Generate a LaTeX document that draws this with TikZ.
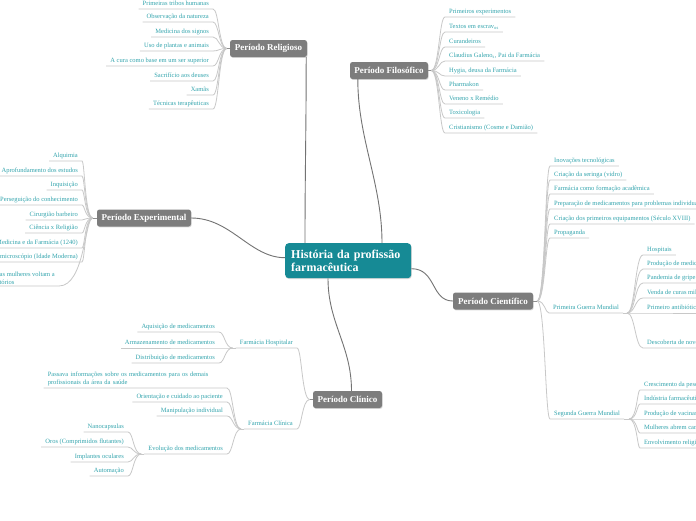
\documentclass[tikz,border=0pt]{standalone}
\usepackage{fontspec}
\setmainfont{Liberation Serif}
\usetikzlibrary{calc,shadows}
\definecolor{tealtxt}{RGB}{52,165,174}
\definecolor{boxgray}{RGB}{125,125,125}
\definecolor{rootteal}{RGB}{22,138,149}
\definecolor{linegray}{RGB}{200,200,200}
\definecolor{trunkgray}{RGB}{115,115,115}
\newcommand\myL[2]{\draw[leafline] let \p1=(#1), \p2=(#2.south east) in (\p1) .. controls (\x1-8pt,\y1) and (\x1-8pt,\y2) .. (\p2) -- (#2.south west);}
\newcommand\myR[2]{\draw[leafline] let \p1=(#1), \p2=(#2.south west) in (\p1) .. controls (\x1+8pt,\y1) and (\x1+8pt,\y2) .. (\p2) -- (#2.south east);}
\tikzset{
  leaf/.style={font=\fontsize{6.5}{7.8}\selectfont, text=tealtxt, inner xsep=4pt, inner ysep=1pt, text height=4.6pt, text depth=2.4pt},
  leafml/.style={font=\fontsize{6.5}{8.2}\selectfont, text=tealtxt, inner xsep=4pt, inner ysep=1.5pt, align=left},
  period/.style={fill=boxgray, text=white, font=\bfseries\fontsize{9}{10}\selectfont, rounded corners=2.5pt, minimum height=17pt, inner xsep=4pt, drop shadow={shadow xshift=0.6pt, shadow yshift=-0.9pt, opacity=0.3}},
  rootbox/.style={fill=rootteal, text=white, font=\bfseries\fontsize{12}{12.5}\selectfont, rounded corners=3.5pt, inner xsep=6pt, drop shadow={shadow xshift=0.6pt, shadow yshift=-0.9pt, opacity=0.3}},
  leafline/.style={draw=linegray, line width=0.8pt},
  trunk/.style={draw=trunkgray, line width=0.9pt},
  stub/.style={draw=trunkgray!80, line width=0.9pt},
}
\begin{document}
\begin{tikzpicture}[x=1pt,y=-1pt]
\useasboundingbox (0,0) rectangle (696,520);
\clip (0,0) rectangle (696,520);
\fill[white] (0,0) rectangle (696,520);

% root
\node[rootbox, anchor=north west, minimum width=126pt, minimum height=35pt, text width=114pt, align=left] (root) at (285,243) {História da profissão\\farmacêutica};

% ---- Periodo Religioso
\node[period, minimum width=77pt] (rel) at (268.5,48.5) {Período Religioso};
\coordinate (relH) at ($(rel.west)+(-3,0)$);
\node[leaf, anchor=south east] (r1) at (213,9) {Primeiras tribos humanas};
\node[leaf, anchor=south east] (r2) at (213,22) {Observação da natureza};
\node[leaf, anchor=south east] (r3) at (213,37) {Medicina dos signos};
\node[leaf, anchor=south east] (r4) at (213,51) {Uso de plantas e animais};
\node[leaf, anchor=south east] (r5) at (213,66) {A cura como base em um ser superior};
\node[leaf, anchor=south east] (r6) at (213,81) {Sacrifício aos deuses};
\node[leaf, anchor=south east] (r7) at (213,95) {Xamãs};
\node[leaf, anchor=south east] (r8) at (213,109) {Técnicas terapêuticas};
\foreach \q in {r1,r2,r3,r4,r5,r6,r7,r8} {\myL{relH}{\q}}
\draw[stub] (rel.west) -- (relH);

% ---- Periodo Filosofico
\node[period, minimum width=78pt] (fil) at (389,70.5) {Período Filosófico};
\coordinate (filH) at ($(fil.east)+(3,0)$);
\node[leaf, anchor=south west] (f1) at (445,17) {Primeiros experimentos};
\node[leaf, anchor=south west] (f2) at (445,32) {Textos em escrav\textsubscript{os}};
\node[leaf, anchor=south west] (f3) at (445,47) {Curandeiros};
\node[leaf, anchor=south west] (f4) at (445,61) {Claudius Galeno\textsubscript{s}, Pai da Farmácia};
\node[leaf, anchor=south west] (f5) at (445,76) {Hygia, deusa da Farmácia};
\node[leaf, anchor=south west] (f6) at (445,90) {Pharmakon};
\node[leaf, anchor=south west] (f7) at (445,104) {Veneno x Remédio};
\node[leaf, anchor=south west] (f8) at (445,118) {Toxicologia};
\node[leaf, anchor=south west] (f9) at (445,133) {Cristianismo (Cosme e Damião)};
\foreach \q in {f1,f2,f3,f4,f5,f6,f7,f8,f9} {\myR{filH}{\q}}
\draw[stub] (fil.east) -- (filH);

% ---- Periodo Experimental
\node[period, minimum width=94pt] (exp) at (144,218) {Período Experimental};
\coordinate (expH) at ($(exp.west)+(-4,0)$);
\node[leaf, anchor=south east] (e1) at (82,161) {Alquimia};
\node[leaf, anchor=south east] (e2) at (82,176) {Aprofundamento dos estudos};
\node[leaf, anchor=south east] (e3) at (82,190) {Inquisição};
\node[leaf, anchor=south east] (e4) at (82,205) {Perseguição do conhecimento};
\node[leaf, anchor=south east] (e5) at (82,220) {Cirurgião barbeiro};
\node[leaf, anchor=south east] (e6) at (82,233) {Ciência x Religião};
\node[leaf, anchor=south east] (e7) at (82,248) {Separação da Medicina e da Farmácia (1240)};
\node[leaf, anchor=south east] (e8) at (82,262) {Invenção do microscópio (Idade Moderna)};
\node[leafml, anchor=south east] (e9) at (59,286) {Nos conventos, as mulheres voltam a\\atuar nos laboratórios};
\foreach \q in {e1,e2,e3,e4,e5,e6,e7,e8,e9} {\myL{expH}{\q}}
\draw[stub] (exp.west) -- (expH);

% ---- Periodo Cientifico
\node[period, minimum width=80pt] (sci) at (493,301) {Período Científico};
\coordinate (sciH) at ($(sci.east)+(4,0)$);
\node[leaf, anchor=south west] (c1) at (550,166) {Inovações tecnológicas};
\node[leaf, anchor=south west] (c2) at (550,180) {Criação da seringa (vidro)};
\node[leaf, anchor=south west] (c3) at (550,194) {Farmácia como formação acadêmica};
\node[leaf, anchor=south west] (c4) at (550,209) {Preparação de medicamentos para problemas individuais};
\node[leaf, anchor=south west] (c5) at (550,224) {Criação dos primeiros equipamentos (Século XVIII)};
\node[leaf, anchor=south west] (c6) at (550,238) {Propaganda};
\node[leaf, anchor=south west] (pgm) at (549,313) {Primeira Guerra Mundial};
\node[leaf, anchor=south west] (sgm) at (550,419) {Segunda Guerra Mundial};
\foreach \q in {c1,c2,c3,c4,c5,c6,pgm,sgm} {\myR{sciH}{\q}}
\draw[stub] (sci.east) -- (sciH);
\coordinate (pgmH) at ($(pgm.south east)+(4,0)$);
\coordinate (sgmH) at ($(sgm.south east)+(5,0)$);
\draw[leafline] (pgm.south east) -- (pgmH);
\draw[leafline] (sgm.south east) -- (sgmH);
\node[leaf, anchor=south west] (p1) at (643,255) {Hospitais};
\node[leaf, anchor=south west] (p2) at (643,269) {Produção de medicamentos};
\node[leaf, anchor=south west] (p3) at (643,283) {Pandemia de gripe espanhola};
\node[leaf, anchor=south west] (p4) at (643,298) {Venda de curas milagrosas};
\node[leaf, anchor=south west] (p5) at (643,313) {Primeiro antibiótico};
\node[leaf, anchor=south west] (p6) at (643,348) {Descoberta de novos medicamentos};
\foreach \q in {p1,p2,p3,p4,p5,p6} {\myR{pgmH}{\q}}
\node[leaf, anchor=south west] (s1) at (640,390) {Crescimento da pesquisa};
\node[leaf, anchor=south west] (s2) at (640,404) {Indústria farmacêutica};
\node[leaf, anchor=south west] (s3) at (640,419) {Produção de vacinas};
\node[leaf, anchor=south west] (s4) at (640,433) {Mulheres abrem caminho na profissão};
\node[leaf, anchor=south west] (s5) at (640,448) {Envolvimento religioso};
\foreach \q in {s1,s2,s3,s4,s5} {\myR{sgmH}{\q}}

% ---- Periodo Clinico
\node[period, minimum width=69pt] (cli) at (347.5,399.5) {Período Clínico};
\coordinate (cliH) at ($(cli.west)+(-3,0)$);
\draw[stub] (cli.west) -- (cliH);
\node[leaf, anchor=south east] (hosp) at (297,348) {Farmácia Hospitalar};
\node[leaf, anchor=south east] (fc) at (297,429) {Farmácia Clínica};
\myL{cliH}{hosp}
\myL{cliH}{fc}
\coordinate (hospH) at ($(hosp.south west)+(-3,0)$);
\coordinate (fcH) at ($(fc.south west)+(-3,0)$);
\draw[leafline] (hosp.south west) -- (hospH);
\draw[leafline] (fc.south west) -- (fcH);
\node[leaf, anchor=south east] (h1) at (219,332) {Aquisição de medicamentos};
\node[leaf, anchor=south east] (h2) at (219,348) {Armazenamento de medicamentos};
\node[leaf, anchor=south east] (h3) at (219,363) {Distribuição de medicamentos};
\foreach \q in {h1,h2,h3} {\myL{hospH}{\q}}
\node[leafml, anchor=south east, text width=175pt] (k1) at (227,388) {Passava informações sobre os medicamentos para os demais\\profissionais da área da saúde};
\node[leaf, anchor=south east] (k2) at (227,402) {Orientação e cuidado ao paciente};
\node[leaf, anchor=south east] (k3) at (227,416) {Manipulação individual};
\node[leaf, anchor=south east] (evo) at (227,454) {Evolução dos medicamentos};
\foreach \q in {k1,k2,k3,evo} {\myL{fcH}{\q}}
\coordinate (evoH) at ($(evo.south west)+(-3,0)$);
\draw[leafline] (evo.south west) -- (evoH);
\node[leaf, anchor=south east] (v1) at (128,432) {Nanocapsulas};
\node[leaf, anchor=south east] (v2) at (128,447) {Oros (Comprimidos flutantes)};
\node[leaf, anchor=south east] (v3) at (128,462) {Implantes oculares};
\node[leaf, anchor=south east] (v4) at (128,476) {Automação};
\foreach \q in {v1,v2,v3,v4} {\myL{evoH}{\q}}

% ---- trunks
\draw[trunk] ($(root.north west)+(20,0)$) .. controls +(0,-70) and +(0,70) .. ($(rel.south east)+(-1,0)$);
\draw[trunk] ($(root.north west)+(97,0)$) .. controls +(0,-60) and +(0,60) .. ($(fil.south west)+(8,0)$);
\draw[trunk] ($(root.west)+(0,-3)$) .. controls +(-35,0) and +(40,0) .. (exp.east);
\draw[trunk] ($(root.east)+(0,8)$) .. controls +(25,0) and +(-22,0) .. (sci.west);
\draw[trunk] ($(root.south west)+(43,0)$) .. controls +(0,45) and +(0,-45) .. ($(cli.north)+(4,0)$);
\end{tikzpicture}
\end{document}
